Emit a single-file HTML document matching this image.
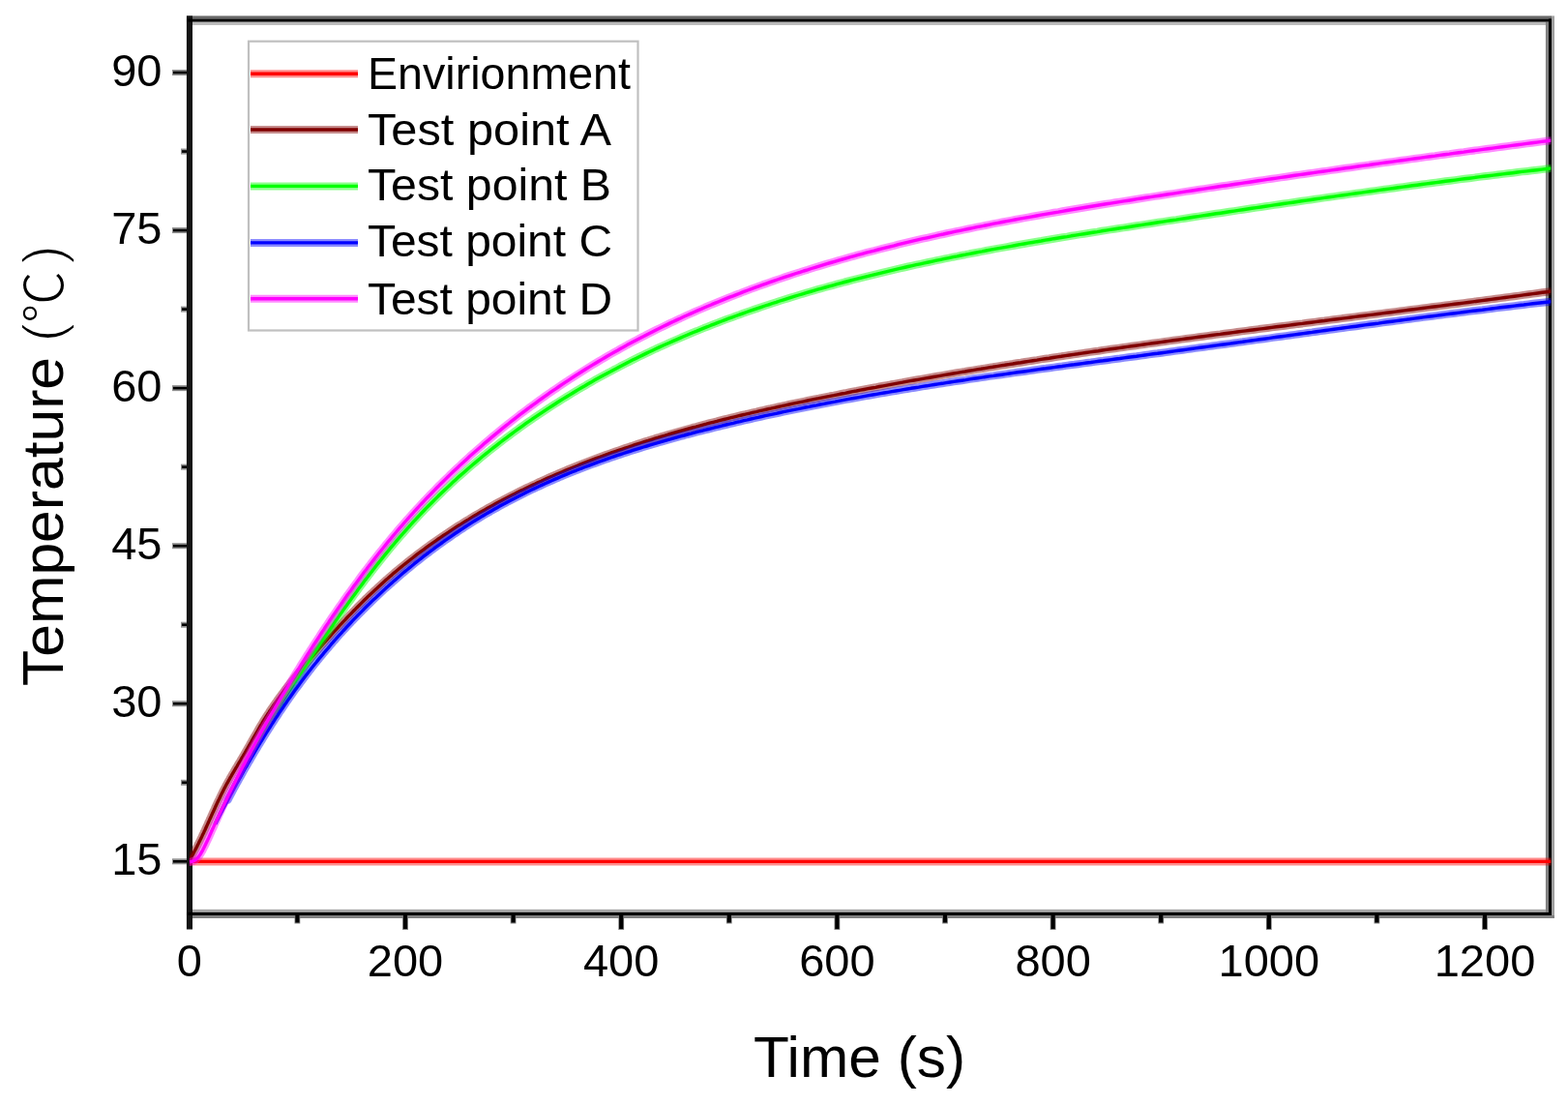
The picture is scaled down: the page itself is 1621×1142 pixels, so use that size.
<!DOCTYPE html><html><head><meta charset="utf-8"><style>html,body{margin:0;padding:0;background:#fff;overflow:hidden;}svg{display:block;}text{font-family:"Liberation Sans", Arial, sans-serif;fill:#000;}</style></head><body>
<svg width="1621" height="1142" viewBox="0 0 1621 1142">
<defs><clipPath id="pc"><rect x="195.8" y="19.4" width="1407.5" height="926"/></clipPath></defs>
<rect x="0" y="0" width="1621" height="1142" fill="#fff"/>
<g>
<rect x="0" y="0" width="1621" height="1142" fill="#fff"/>
<rect x="193" y="16.4" width="1411" height="3.0" fill="#6a6a6a"/>
<rect x="1604" y="16.4" width="3" height="932.6" fill="#a0a0a0"/>
<rect x="199" y="22.6" width="1399" height="3.3" fill="#b8b8b8"/>
<rect x="1597.9" y="22.6" width="3.1" height="920.2" fill="#808080"/>
<rect x="199" y="939.8" width="1399" height="3.0" fill="#a8a8a8"/>
<rect x="193" y="946" width="1414" height="3.0" fill="#808080"/>
<rect x="192.9" y="16.4" width="6.1" height="944.1" fill="#141414"/>
<rect x="193" y="19.4" width="1411" height="3.2" fill="#000"/>
<rect x="1601" y="19.4" width="3" height="926.6" fill="#000"/>
<rect x="193" y="942.8" width="1411" height="3.2" fill="#000"/>
<g clip-path="url(#pc)" fill="none" stroke-linejoin="round" stroke-linecap="butt">
<line x1="196" y1="890.4" x2="1604" y2="890.4" stroke="#ff0000" stroke-opacity="0.45" stroke-width="8.0"/>
<line x1="196" y1="890.4" x2="1604" y2="890.4" stroke="#ff0000" stroke-width="3.4"/>
<path d="M195.9,889.5 L196.0,889.3 L196.1,889.1 L196.3,888.8 L196.5,888.4 L196.7,888.0 L196.9,887.6 L197.2,887.1 L197.5,886.6 L197.8,886.0 L198.1,885.4 L198.4,884.8 L198.8,884.2 L199.2,883.5 L199.5,882.8 L199.9,882.1 L200.3,881.3 L200.7,880.5 L201.1,879.7 L201.6,878.9 L202.0,878.0 L202.5,877.2 L202.9,876.3 L203.4,875.3 L203.9,874.4 L204.3,873.4 L204.8,872.5 L205.3,871.5 L205.8,870.4 L206.4,869.4 L206.9,868.3 L207.4,867.3 L207.9,866.2 L208.5,865.0 L209.0,863.9 L209.5,862.7 L210.1,861.6 L210.7,860.4 L211.2,859.2 L211.8,858.0 L212.4,856.7 L212.9,855.5 L213.5,854.2 L214.1,852.9 L214.7,851.6 L215.3,850.3 L215.9,848.9 L216.5,847.6 L217.1,846.2 L217.8,844.8 L218.4,843.4 L219.0,842.0 L219.7,840.6 L220.3,839.2 L221.0,837.7 L221.7,836.3 L222.3,834.8 L223.0,833.3 L223.7,831.8 L224.4,830.3 L225.1,828.8 L225.8,827.3 L226.6,825.7 L227.3,824.2 L228.1,822.6 L228.8,821.1 L229.6,819.5 L230.4,817.9 L231.2,816.3 L232.0,814.7 L232.9,813.1 L233.7,811.5 L234.6,809.9 L235.5,808.3 L236.4,806.7 L237.3,805.1 L238.2,803.4 L239.2,801.8 L240.1,800.1 L241.1,798.5 L242.1,796.8 L243.1,795.1 L244.1,793.4 L245.1,791.8 L246.1,790.0 L247.1,788.3 L248.2,786.6 L249.2,784.9 L250.2,783.1 L251.3,781.4 L252.3,779.6 L253.4,777.8 L254.4,776.0 L255.5,774.2 L256.5,772.3 L257.6,770.5 L258.6,768.6 L259.7,766.8 L260.7,764.9 L261.8,763.0 L262.9,761.2 L264.0,759.3 L265.1,757.4 L266.2,755.5 L267.3,753.5 L268.4,751.6 L269.5,749.7 L270.7,747.8 L271.8,745.9 L273.0,744.0 L274.2,742.1 L275.4,740.2 L276.6,738.3 L277.9,736.4 L279.1,734.5 L280.4,732.6 L281.7,730.7 L283.0,728.8 L284.3,726.9 L285.7,725.0 L287.0,723.1 L288.4,721.2 L289.8,719.3 L291.2,717.4 L292.6,715.5 L294.0,713.6 L295.4,711.7 L296.9,709.8 L298.4,707.9 L299.9,706.0 L301.4,704.1 L302.9,702.2 L304.4,700.3 L306.0,698.4 L307.5,696.5 L309.1,694.6 L310.7,692.7 L312.3,690.7 L313.9,688.8 L315.5,686.9 L317.2,684.9 L318.9,683.0 L320.5,681.0 L322.2,679.1 L323.9,677.1 L325.6,675.1 L327.4,673.1 L329.1,671.1 L330.8,669.1 L332.6,667.1 L334.4,665.1 L336.2,663.1 L338.0,661.1 L339.8,659.0 L341.6,657.0 L343.5,654.9 L345.3,652.9 L347.2,650.8 L349.1,648.8 L351.0,646.7 L352.9,644.7 L354.8,642.6 L356.8,640.6 L358.7,638.5 L360.7,636.4 L362.7,634.4 L364.7,632.3 L366.7,630.3 L368.7,628.2 L370.7,626.2 L372.8,624.1 L374.8,622.1 L376.9,620.0 L379.0,618.0 L381.1,615.9 L383.2,613.9 L385.4,611.9 L387.5,609.9 L389.7,607.9 L391.8,605.9 L394.0,603.9 L396.2,601.9 L398.4,599.9 L400.7,598.0 L402.9,596.0 L405.2,594.1 L407.4,592.1 L409.7,590.2 L412.0,588.3 L414.3,586.4 L416.6,584.5 L419.0,582.6 L421.3,580.7 L423.7,578.8 L426.1,577.0 L428.5,575.1 L430.9,573.2 L433.3,571.4 L435.7,569.6 L438.2,567.8 L440.7,565.9 L443.1,564.1 L445.6,562.3 L448.1,560.6 L450.7,558.8 L453.2,557.0 L455.7,555.3 L458.3,553.5 L460.9,551.8 L463.5,550.1 L466.1,548.3 L468.7,546.6 L471.3,544.9 L473.9,543.2 L476.6,541.6 L479.3,539.9 L482.0,538.2 L484.7,536.6 L487.4,534.9 L490.1,533.3 L492.8,531.7 L495.6,530.1 L498.3,528.5 L501.1,526.9 L503.9,525.3 L506.7,523.7 L509.5,522.2 L512.4,520.6 L515.2,519.1 L518.1,517.6 L520.9,516.0 L523.8,514.5 L526.7,513.0 L529.6,511.5 L532.6,510.1 L535.5,508.6 L538.4,507.1 L541.4,505.7 L544.4,504.2 L547.4,502.8 L550.4,501.4 L553.4,500.0 L556.4,498.5 L559.5,497.2 L562.5,495.8 L565.6,494.4 L568.7,493.0 L571.7,491.7 L574.9,490.3 L578.0,489.0 L581.1,487.7 L584.2,486.4 L587.4,485.0 L590.6,483.7 L593.7,482.5 L596.9,481.2 L600.1,479.9 L603.3,478.7 L606.6,477.4 L609.8,476.2 L613.1,474.9 L616.3,473.7 L619.6,472.5 L622.9,471.3 L626.2,470.1 L629.5,468.9 L632.8,467.7 L636.1,466.6 L639.5,465.4 L642.8,464.3 L646.2,463.1 L649.6,462.0 L653.0,460.9 L656.4,459.7 L659.8,458.6 L663.2,457.5 L666.6,456.4 L670.1,455.4 L673.5,454.3 L677.0,453.2 L680.5,452.2 L683.9,451.1 L687.4,450.1 L690.9,449.0 L694.5,448.0 L698.0,447.0 L701.5,446.0 L705.1,445.0 L708.6,444.0 L712.2,443.0 L715.8,442.0 L719.4,441.1 L723.0,440.1 L726.6,439.1 L730.2,438.2 L733.8,437.2 L737.4,436.3 L741.1,435.4 L744.7,434.4 L748.4,433.5 L752.1,432.6 L755.8,431.7 L759.4,430.8 L763.1,429.9 L766.9,429.0 L770.6,428.2 L774.3,427.3 L778.0,426.4 L781.8,425.6 L785.5,424.7 L789.3,423.8 L793.0,423.0 L796.8,422.2 L800.6,421.3 L804.4,420.5 L808.2,419.7 L812.0,418.8 L815.8,418.0 L819.6,417.2 L823.4,416.4 L827.2,415.6 L831.1,414.8 L834.9,414.0 L838.8,413.2 L842.6,412.4 L846.5,411.7 L850.4,410.9 L854.2,410.1 L858.1,409.3 L862.0,408.6 L865.9,407.8 L869.8,407.0 L873.7,406.3 L877.6,405.5 L881.5,404.7 L885.5,404.0 L889.4,403.2 L893.3,402.5 L897.3,401.7 L901.2,401.0 L905.2,400.3 L909.1,399.5 L913.1,398.8 L917.0,398.1 L921.0,397.3 L925.0,396.6 L929.0,395.9 L933.0,395.2 L937.0,394.4 L941.0,393.7 L945.0,393.0 L949.0,392.3 L953.0,391.6 L957.0,390.9 L961.1,390.2 L965.1,389.5 L969.1,388.8 L973.2,388.1 L977.2,387.4 L981.3,386.7 L985.4,386.0 L989.4,385.3 L993.5,384.6 L997.6,384.0 L1001.7,383.3 L1005.8,382.6 L1009.9,381.9 L1014.0,381.3 L1018.1,380.6 L1022.2,379.9 L1026.3,379.3 L1030.4,378.6 L1034.6,377.9 L1038.7,377.3 L1042.8,376.6 L1047.0,376.0 L1051.1,375.3 L1055.3,374.7 L1059.5,374.0 L1063.6,373.4 L1067.8,372.7 L1072.0,372.1 L1076.2,371.4 L1080.4,370.8 L1084.6,370.2 L1088.8,369.5 L1093.0,368.9 L1097.2,368.3 L1101.4,367.6 L1105.6,367.0 L1109.9,366.4 L1114.1,365.8 L1118.3,365.1 L1122.6,364.5 L1126.8,363.9 L1131.1,363.3 L1135.4,362.7 L1139.6,362.0 L1143.9,361.4 L1148.2,360.8 L1152.5,360.2 L1156.8,359.6 L1161.1,359.0 L1165.4,358.4 L1169.7,357.8 L1174.0,357.2 L1178.3,356.6 L1182.6,356.0 L1186.9,355.4 L1191.3,354.8 L1195.6,354.2 L1200.0,353.6 L1204.3,353.0 L1208.7,352.4 L1213.0,351.8 L1217.4,351.2 L1221.8,350.6 L1226.2,350.0 L1230.5,349.5 L1234.9,348.9 L1239.3,348.3 L1243.7,347.7 L1248.1,347.1 L1252.5,346.5 L1257.0,345.9 L1261.4,345.4 L1265.8,344.8 L1270.2,344.2 L1274.7,343.6 L1279.1,343.0 L1283.6,342.4 L1288.0,341.9 L1292.5,341.3 L1297.0,340.7 L1301.4,340.1 L1305.9,339.6 L1310.4,339.0 L1314.9,338.4 L1319.4,337.8 L1323.9,337.2 L1328.4,336.7 L1332.9,336.1 L1337.4,335.5 L1341.9,334.9 L1346.5,334.4 L1351.0,333.8 L1355.5,333.2 L1360.1,332.6 L1364.6,332.0 L1369.2,331.5 L1373.7,330.9 L1378.3,330.3 L1382.9,329.7 L1387.4,329.1 L1392.0,328.6 L1396.6,328.0 L1401.2,327.4 L1405.8,326.8 L1410.4,326.2 L1415.0,325.6 L1419.6,325.1 L1424.3,324.5 L1428.9,323.9 L1433.5,323.3 L1438.2,322.7 L1442.8,322.1 L1447.4,321.5 L1452.1,320.9 L1456.8,320.3 L1461.4,319.7 L1466.1,319.1 L1470.8,318.5 L1475.5,317.9 L1480.1,317.3 L1484.8,316.7 L1489.5,316.1 L1494.2,315.5 L1499.0,314.9 L1503.7,314.3 L1508.4,313.7 L1513.1,313.1 L1517.9,312.5 L1522.6,311.9 L1527.3,311.2 L1532.1,310.6 L1536.8,310.0 L1541.6,309.4 L1546.4,308.7 L1551.1,308.1 L1555.9,307.5 L1560.7,306.9 L1565.5,306.2 L1570.3,305.6 L1575.1,304.9 L1579.9,304.3 L1584.7,303.6 L1589.5,303.0 L1594.4,302.3 L1599.2,301.7 L1604.0,301.0" stroke="#800000" stroke-opacity="0.45" stroke-width="8.0" stroke-linecap="round"/>
<path d="M195.9,889.5 L196.0,889.3 L196.1,889.1 L196.3,888.8 L196.5,888.4 L196.7,888.0 L196.9,887.6 L197.2,887.1 L197.5,886.6 L197.8,886.0 L198.1,885.4 L198.4,884.8 L198.8,884.2 L199.2,883.5 L199.5,882.8 L199.9,882.1 L200.3,881.3 L200.7,880.5 L201.1,879.7 L201.6,878.9 L202.0,878.0 L202.5,877.2 L202.9,876.3 L203.4,875.3 L203.9,874.4 L204.3,873.4 L204.8,872.5 L205.3,871.5 L205.8,870.4 L206.4,869.4 L206.9,868.3 L207.4,867.3 L207.9,866.2 L208.5,865.0 L209.0,863.9 L209.5,862.7 L210.1,861.6 L210.7,860.4 L211.2,859.2 L211.8,858.0 L212.4,856.7 L212.9,855.5 L213.5,854.2 L214.1,852.9 L214.7,851.6 L215.3,850.3 L215.9,848.9 L216.5,847.6 L217.1,846.2 L217.8,844.8 L218.4,843.4 L219.0,842.0 L219.7,840.6 L220.3,839.2 L221.0,837.7 L221.7,836.3 L222.3,834.8 L223.0,833.3 L223.7,831.8 L224.4,830.3 L225.1,828.8 L225.8,827.3 L226.6,825.7 L227.3,824.2 L228.1,822.6 L228.8,821.1 L229.6,819.5 L230.4,817.9 L231.2,816.3 L232.0,814.7 L232.9,813.1 L233.7,811.5 L234.6,809.9 L235.5,808.3 L236.4,806.7 L237.3,805.1 L238.2,803.4 L239.2,801.8 L240.1,800.1 L241.1,798.5 L242.1,796.8 L243.1,795.1 L244.1,793.4 L245.1,791.8 L246.1,790.0 L247.1,788.3 L248.2,786.6 L249.2,784.9 L250.2,783.1 L251.3,781.4 L252.3,779.6 L253.4,777.8 L254.4,776.0 L255.5,774.2 L256.5,772.3 L257.6,770.5 L258.6,768.6 L259.7,766.8 L260.7,764.9 L261.8,763.0 L262.9,761.2 L264.0,759.3 L265.1,757.4 L266.2,755.5 L267.3,753.5 L268.4,751.6 L269.5,749.7 L270.7,747.8 L271.8,745.9 L273.0,744.0 L274.2,742.1 L275.4,740.2 L276.6,738.3 L277.9,736.4 L279.1,734.5 L280.4,732.6 L281.7,730.7 L283.0,728.8 L284.3,726.9 L285.7,725.0 L287.0,723.1 L288.4,721.2 L289.8,719.3 L291.2,717.4 L292.6,715.5 L294.0,713.6 L295.4,711.7 L296.9,709.8 L298.4,707.9 L299.9,706.0 L301.4,704.1 L302.9,702.2 L304.4,700.3 L306.0,698.4 L307.5,696.5 L309.1,694.6 L310.7,692.7 L312.3,690.7 L313.9,688.8 L315.5,686.9 L317.2,684.9 L318.9,683.0 L320.5,681.0 L322.2,679.1 L323.9,677.1 L325.6,675.1 L327.4,673.1 L329.1,671.1 L330.8,669.1 L332.6,667.1 L334.4,665.1 L336.2,663.1 L338.0,661.1 L339.8,659.0 L341.6,657.0 L343.5,654.9 L345.3,652.9 L347.2,650.8 L349.1,648.8 L351.0,646.7 L352.9,644.7 L354.8,642.6 L356.8,640.6 L358.7,638.5 L360.7,636.4 L362.7,634.4 L364.7,632.3 L366.7,630.3 L368.7,628.2 L370.7,626.2 L372.8,624.1 L374.8,622.1 L376.9,620.0 L379.0,618.0 L381.1,615.9 L383.2,613.9 L385.4,611.9 L387.5,609.9 L389.7,607.9 L391.8,605.9 L394.0,603.9 L396.2,601.9 L398.4,599.9 L400.7,598.0 L402.9,596.0 L405.2,594.1 L407.4,592.1 L409.7,590.2 L412.0,588.3 L414.3,586.4 L416.6,584.5 L419.0,582.6 L421.3,580.7 L423.7,578.8 L426.1,577.0 L428.5,575.1 L430.9,573.2 L433.3,571.4 L435.7,569.6 L438.2,567.8 L440.7,565.9 L443.1,564.1 L445.6,562.3 L448.1,560.6 L450.7,558.8 L453.2,557.0 L455.7,555.3 L458.3,553.5 L460.9,551.8 L463.5,550.1 L466.1,548.3 L468.7,546.6 L471.3,544.9 L473.9,543.2 L476.6,541.6 L479.3,539.9 L482.0,538.2 L484.7,536.6 L487.4,534.9 L490.1,533.3 L492.8,531.7 L495.6,530.1 L498.3,528.5 L501.1,526.9 L503.9,525.3 L506.7,523.7 L509.5,522.2 L512.4,520.6 L515.2,519.1 L518.1,517.6 L520.9,516.0 L523.8,514.5 L526.7,513.0 L529.6,511.5 L532.6,510.1 L535.5,508.6 L538.4,507.1 L541.4,505.7 L544.4,504.2 L547.4,502.8 L550.4,501.4 L553.4,500.0 L556.4,498.5 L559.5,497.2 L562.5,495.8 L565.6,494.4 L568.7,493.0 L571.7,491.7 L574.9,490.3 L578.0,489.0 L581.1,487.7 L584.2,486.4 L587.4,485.0 L590.6,483.7 L593.7,482.5 L596.9,481.2 L600.1,479.9 L603.3,478.7 L606.6,477.4 L609.8,476.2 L613.1,474.9 L616.3,473.7 L619.6,472.5 L622.9,471.3 L626.2,470.1 L629.5,468.9 L632.8,467.7 L636.1,466.6 L639.5,465.4 L642.8,464.3 L646.2,463.1 L649.6,462.0 L653.0,460.9 L656.4,459.7 L659.8,458.6 L663.2,457.5 L666.6,456.4 L670.1,455.4 L673.5,454.3 L677.0,453.2 L680.5,452.2 L683.9,451.1 L687.4,450.1 L690.9,449.0 L694.5,448.0 L698.0,447.0 L701.5,446.0 L705.1,445.0 L708.6,444.0 L712.2,443.0 L715.8,442.0 L719.4,441.1 L723.0,440.1 L726.6,439.1 L730.2,438.2 L733.8,437.2 L737.4,436.3 L741.1,435.4 L744.7,434.4 L748.4,433.5 L752.1,432.6 L755.8,431.7 L759.4,430.8 L763.1,429.9 L766.9,429.0 L770.6,428.2 L774.3,427.3 L778.0,426.4 L781.8,425.6 L785.5,424.7 L789.3,423.8 L793.0,423.0 L796.8,422.2 L800.6,421.3 L804.4,420.5 L808.2,419.7 L812.0,418.8 L815.8,418.0 L819.6,417.2 L823.4,416.4 L827.2,415.6 L831.1,414.8 L834.9,414.0 L838.8,413.2 L842.6,412.4 L846.5,411.7 L850.4,410.9 L854.2,410.1 L858.1,409.3 L862.0,408.6 L865.9,407.8 L869.8,407.0 L873.7,406.3 L877.6,405.5 L881.5,404.7 L885.5,404.0 L889.4,403.2 L893.3,402.5 L897.3,401.7 L901.2,401.0 L905.2,400.3 L909.1,399.5 L913.1,398.8 L917.0,398.1 L921.0,397.3 L925.0,396.6 L929.0,395.9 L933.0,395.2 L937.0,394.4 L941.0,393.7 L945.0,393.0 L949.0,392.3 L953.0,391.6 L957.0,390.9 L961.1,390.2 L965.1,389.5 L969.1,388.8 L973.2,388.1 L977.2,387.4 L981.3,386.7 L985.4,386.0 L989.4,385.3 L993.5,384.6 L997.6,384.0 L1001.7,383.3 L1005.8,382.6 L1009.9,381.9 L1014.0,381.3 L1018.1,380.6 L1022.2,379.9 L1026.3,379.3 L1030.4,378.6 L1034.6,377.9 L1038.7,377.3 L1042.8,376.6 L1047.0,376.0 L1051.1,375.3 L1055.3,374.7 L1059.5,374.0 L1063.6,373.4 L1067.8,372.7 L1072.0,372.1 L1076.2,371.4 L1080.4,370.8 L1084.6,370.2 L1088.8,369.5 L1093.0,368.9 L1097.2,368.3 L1101.4,367.6 L1105.6,367.0 L1109.9,366.4 L1114.1,365.8 L1118.3,365.1 L1122.6,364.5 L1126.8,363.9 L1131.1,363.3 L1135.4,362.7 L1139.6,362.0 L1143.9,361.4 L1148.2,360.8 L1152.5,360.2 L1156.8,359.6 L1161.1,359.0 L1165.4,358.4 L1169.7,357.8 L1174.0,357.2 L1178.3,356.6 L1182.6,356.0 L1186.9,355.4 L1191.3,354.8 L1195.6,354.2 L1200.0,353.6 L1204.3,353.0 L1208.7,352.4 L1213.0,351.8 L1217.4,351.2 L1221.8,350.6 L1226.2,350.0 L1230.5,349.5 L1234.9,348.9 L1239.3,348.3 L1243.7,347.7 L1248.1,347.1 L1252.5,346.5 L1257.0,345.9 L1261.4,345.4 L1265.8,344.8 L1270.2,344.2 L1274.7,343.6 L1279.1,343.0 L1283.6,342.4 L1288.0,341.9 L1292.5,341.3 L1297.0,340.7 L1301.4,340.1 L1305.9,339.6 L1310.4,339.0 L1314.9,338.4 L1319.4,337.8 L1323.9,337.2 L1328.4,336.7 L1332.9,336.1 L1337.4,335.5 L1341.9,334.9 L1346.5,334.4 L1351.0,333.8 L1355.5,333.2 L1360.1,332.6 L1364.6,332.0 L1369.2,331.5 L1373.7,330.9 L1378.3,330.3 L1382.9,329.7 L1387.4,329.1 L1392.0,328.6 L1396.6,328.0 L1401.2,327.4 L1405.8,326.8 L1410.4,326.2 L1415.0,325.6 L1419.6,325.1 L1424.3,324.5 L1428.9,323.9 L1433.5,323.3 L1438.2,322.7 L1442.8,322.1 L1447.4,321.5 L1452.1,320.9 L1456.8,320.3 L1461.4,319.7 L1466.1,319.1 L1470.8,318.5 L1475.5,317.9 L1480.1,317.3 L1484.8,316.7 L1489.5,316.1 L1494.2,315.5 L1499.0,314.9 L1503.7,314.3 L1508.4,313.7 L1513.1,313.1 L1517.9,312.5 L1522.6,311.9 L1527.3,311.2 L1532.1,310.6 L1536.8,310.0 L1541.6,309.4 L1546.4,308.7 L1551.1,308.1 L1555.9,307.5 L1560.7,306.9 L1565.5,306.2 L1570.3,305.6 L1575.1,304.9 L1579.9,304.3 L1584.7,303.6 L1589.5,303.0 L1594.4,302.3 L1599.2,301.7 L1604.0,301.0" stroke="#800000" stroke-width="3.4"/>
<path d="M286.5,733.6 L287.7,731.5 L289.0,729.5 L290.3,727.4 L291.6,725.4 L293.0,723.3 L294.3,721.2 L295.6,719.1 L296.9,717.0 L298.3,714.9 L299.7,712.8 L301.0,710.7 L302.4,708.6 L303.8,706.4 L305.2,704.3 L306.6,702.1 L308.0,700.0 L309.4,697.8 L310.8,695.7 L312.2,693.5 L313.7,691.3 L315.1,689.1 L316.5,686.9 L318.0,684.7 L319.5,682.5 L320.9,680.3 L322.4,678.0 L323.9,675.8 L325.4,673.6 L326.9,671.3 L328.4,669.1 L329.9,666.8 L331.4,664.5 L333.0,662.2 L334.5,660.0 L336.1,657.7 L337.6,655.4 L339.2,653.1 L340.8,650.8 L342.3,648.5 L343.9,646.2 L345.5,643.9 L347.1,641.5 L348.8,639.2 L350.4,636.9 L352.0,634.5 L353.7,632.2 L355.3,629.9 L357.0,627.5 L358.7,625.2 L360.4,622.8 L362.1,620.5 L363.8,618.1 L365.5,615.7 L367.2,613.4 L369.0,611.0 L370.7,608.6 L372.5,606.2 L374.3,603.9 L376.0,601.5 L377.8,599.1 L379.7,596.7 L381.5,594.4 L383.3,592.0 L385.2,589.6 L387.0,587.2 L388.9,584.8 L390.8,582.4 L392.7,580.0 L394.6,577.7 L396.5,575.3 L398.4,572.9 L400.4,570.5 L402.3,568.1 L404.3,565.7 L406.3,563.4 L408.3,561.0 L410.3,558.6 L412.4,556.2 L414.4,553.9 L416.5,551.5 L418.6,549.1 L420.6,546.8 L422.8,544.4 L424.9,542.0 L427.0,539.7 L429.2,537.3 L431.4,535.0 L433.6,532.6 L435.8,530.3 L438.0,528.0 L440.2,525.6 L442.5,523.3 L444.8,521.0 L447.1,518.7 L449.4,516.4 L451.7,514.1 L454.0,511.8 L456.4,509.5 L458.8,507.2 L461.2,504.9 L463.6,502.7 L466.0,500.4 L468.5,498.1 L470.9,495.9 L473.4,493.6 L475.9,491.4 L478.4,489.2 L481.0,486.9 L483.5,484.7 L486.1,482.5 L488.7,480.3 L491.3,478.1 L493.9,475.9 L496.5,473.7 L499.1,471.5 L501.8,469.4 L504.5,467.2 L507.2,465.0 L509.9,462.9 L512.6,460.8 L515.4,458.6 L518.1,456.5 L520.9,454.4 L523.7,452.3 L526.5,450.2 L529.3,448.1 L532.1,446.0 L535.0,443.9 L537.9,441.8 L540.7,439.8 L543.6,437.7 L546.6,435.7 L549.5,433.7 L552.4,431.6 L555.4,429.6 L558.4,427.6 L561.4,425.6 L564.4,423.6 L567.4,421.6 L570.4,419.7 L573.5,417.7 L576.5,415.8 L579.6,413.8 L582.7,411.9 L585.8,410.0 L588.9,408.1 L592.0,406.2 L595.2,404.3 L598.3,402.4 L601.5,400.5 L604.7,398.7 L607.9,396.8 L611.1,395.0 L614.3,393.1 L617.6,391.3 L620.8,389.5 L624.1,387.7 L627.4,385.9 L630.7,384.2 L634.0,382.4 L637.3,380.7 L640.6,378.9 L644.0,377.2 L647.3,375.5 L650.7,373.8 L654.0,372.1 L657.4,370.4 L660.8,368.7 L664.2,367.1 L667.7,365.4 L671.1,363.8 L674.5,362.2 L678.0,360.5 L681.5,358.9 L685.0,357.3 L688.4,355.8 L692.0,354.2 L695.5,352.6 L699.0,351.1 L702.5,349.6 L706.1,348.0 L709.7,346.5 L713.2,345.0 L716.8,343.5 L720.4,342.1 L724.0,340.6 L727.6,339.1 L731.3,337.7 L734.9,336.2 L738.6,334.8 L742.2,333.4 L745.9,332.0 L749.6,330.6 L753.3,329.2 L757.0,327.9 L760.7,326.5 L764.5,325.2 L768.2,323.8 L771.9,322.5 L775.7,321.2 L779.5,319.9 L783.3,318.6 L787.1,317.3 L790.9,316.0 L794.7,314.8 L798.5,313.5 L802.4,312.3 L806.2,311.0 L810.1,309.8 L813.9,308.6 L817.8,307.4 L821.7,306.2 L825.6,305.0 L829.5,303.8 L833.4,302.7 L837.4,301.5 L841.3,300.4 L845.3,299.2 L849.2,298.1 L853.2,297.0 L857.2,295.9 L861.2,294.8 L865.2,293.7 L869.2,292.6 L873.2,291.5 L877.2,290.5 L881.3,289.4 L885.3,288.4 L889.4,287.3 L893.4,286.3 L897.5,285.3 L901.6,284.3 L905.7,283.3 L909.8,282.3 L913.9,281.3 L918.0,280.3 L922.2,279.3 L926.3,278.4 L930.5,277.4 L934.6,276.5 L938.8,275.5 L943.0,274.6 L947.1,273.7 L951.3,272.8 L955.5,271.9 L959.8,271.0 L964.0,270.1 L968.2,269.2 L972.4,268.3 L976.7,267.4 L980.9,266.6 L985.2,265.7 L989.5,264.9 L993.7,264.0 L998.0,263.2 L1002.3,262.3 L1006.6,261.5 L1010.9,260.7 L1015.2,259.9 L1019.5,259.0 L1023.9,258.2 L1028.2,257.4 L1032.5,256.6 L1036.9,255.9 L1041.3,255.1 L1045.6,254.3 L1050.0,253.5 L1054.4,252.7 L1058.7,252.0 L1063.1,251.2 L1067.5,250.5 L1071.9,249.7 L1076.4,249.0 L1080.8,248.2 L1085.2,247.5 L1089.6,246.7 L1094.1,246.0 L1098.5,245.3 L1103.0,244.6 L1107.4,243.8 L1111.9,243.1 L1116.3,242.4 L1120.8,241.7 L1125.3,241.0 L1129.8,240.3 L1134.3,239.6 L1138.7,238.8 L1143.2,238.1 L1147.7,237.4 L1152.3,236.7 L1156.8,236.0 L1161.3,235.4 L1165.8,234.7 L1170.3,234.0 L1174.9,233.3 L1179.4,232.6 L1184.0,231.9 L1188.5,231.2 L1193.1,230.5 L1197.6,229.8 L1202.2,229.1 L1206.7,228.4 L1211.3,227.7 L1215.9,227.1 L1220.4,226.4 L1225.0,225.7 L1229.6,225.0 L1234.2,224.3 L1238.8,223.6 L1243.4,222.9 L1248.0,222.2 L1252.6,221.5 L1257.2,220.8 L1261.8,220.2 L1266.4,219.5 L1271.0,218.8 L1275.7,218.1 L1280.3,217.4 L1284.9,216.7 L1289.6,216.0 L1294.2,215.3 L1298.9,214.6 L1303.5,214.0 L1308.2,213.3 L1312.9,212.6 L1317.5,211.9 L1322.2,211.2 L1326.9,210.5 L1331.6,209.9 L1336.3,209.2 L1341.0,208.5 L1345.7,207.8 L1350.4,207.1 L1355.1,206.5 L1359.8,205.8 L1364.5,205.1 L1369.3,204.4 L1374.0,203.8 L1378.8,203.1 L1383.5,202.4 L1388.3,201.7 L1393.0,201.1 L1397.8,200.4 L1402.5,199.7 L1407.3,199.1 L1412.1,198.4 L1416.9,197.7 L1421.7,197.1 L1426.5,196.4 L1431.3,195.8 L1436.1,195.1 L1440.9,194.5 L1445.8,193.8 L1450.6,193.1 L1455.4,192.5 L1460.3,191.8 L1465.1,191.2 L1470.0,190.5 L1474.9,189.9 L1479.7,189.3 L1484.6,188.6 L1489.5,188.0 L1494.4,187.3 L1499.3,186.7 L1504.2,186.1 L1509.1,185.4 L1514.1,184.8 L1519.0,184.2 L1523.9,183.6 L1528.9,182.9 L1533.8,182.3 L1538.8,181.7 L1543.8,181.1 L1548.7,180.5 L1553.7,179.9 L1558.7,179.3 L1563.7,178.7 L1568.7,178.0 L1573.7,177.4 L1578.8,176.9 L1583.8,176.3 L1588.8,175.7 L1593.9,175.1 L1598.9,174.5 L1604.0,173.9" stroke="#00ff00" stroke-opacity="0.45" stroke-width="8.0" stroke-linecap="round"/>
<path d="M221.9,851.9 L222.5,850.4 L223.2,849.0 L223.8,847.5 L224.5,846.1 L225.2,844.6 L225.9,843.1 L226.6,841.6 L227.3,840.0 L228.0,838.5 L228.8,837.0 L229.5,835.4 L230.3,833.8 L231.0,832.3 L231.8,830.7 L232.6,829.1 L233.4,827.5 L234.2,825.9 L235.0,824.2 L235.8,822.6 L236.6,820.9 L237.5,819.3 L238.3,817.6 L239.2,815.9 L240.0,814.2 L240.9,812.5 L241.8,810.8 L242.7,809.1 L243.6,807.4 L244.5,805.6 L245.4,803.9 L246.4,802.1 L247.3,800.4 L248.3,798.6 L249.3,796.8 L250.2,795.0 L251.2,793.2 L252.2,791.4 L253.2,789.6 L254.2,787.8 L255.3,786.0 L256.3,784.1 L257.3,782.3 L258.4,780.4 L259.4,778.6 L260.5,776.7 L261.6,774.8 L262.7,772.9 L263.8,771.0 L264.9,769.1 L266.0,767.2 L267.2,765.3 L268.3,763.4 L269.4,761.4 L270.6,759.5 L271.8,757.5 L272.9,755.6 L274.1,753.6 L275.3,751.6 L276.5,749.7 L277.7,747.7 L278.9,745.7 L280.2,743.7 L281.4,741.7 L282.7,739.7 L283.9,737.6 L285.2,735.6 L286.5,733.6 L287.7,731.5 L289.0,729.5 L290.3,727.4 L291.6,725.4 L293.0,723.3 L294.3,721.2 L295.6,719.1 L296.9,717.0 L298.3,714.9 L299.7,712.8 L301.0,710.7 L302.4,708.6 L303.8,706.4 L305.2,704.3 L306.6,702.1 L308.0,700.0 L309.4,697.8 L310.8,695.7 L312.2,693.5 L313.7,691.3 L315.1,689.1 L316.5,686.9 L318.0,684.7 L319.5,682.5 L320.9,680.3 L322.4,678.0 L323.9,675.8 L325.4,673.6 L326.9,671.3 L328.4,669.1 L329.9,666.8 L331.4,664.5 L333.0,662.2 L334.5,660.0 L336.1,657.7 L337.6,655.4 L339.2,653.1 L340.8,650.8 L342.3,648.5 L343.9,646.2 L345.5,643.9 L347.1,641.5 L348.8,639.2 L350.4,636.9 L352.0,634.5 L353.7,632.2 L355.3,629.9 L357.0,627.5 L358.7,625.2 L360.4,622.8 L362.1,620.5 L363.8,618.1 L365.5,615.7 L367.2,613.4 L369.0,611.0 L370.7,608.6 L372.5,606.2 L374.3,603.9 L376.0,601.5 L377.8,599.1 L379.7,596.7 L381.5,594.4 L383.3,592.0 L385.2,589.6 L387.0,587.2 L388.9,584.8 L390.8,582.4 L392.7,580.0 L394.6,577.7 L396.5,575.3 L398.4,572.9 L400.4,570.5 L402.3,568.1 L404.3,565.7 L406.3,563.4 L408.3,561.0 L410.3,558.6 L412.4,556.2 L414.4,553.9 L416.5,551.5 L418.6,549.1 L420.6,546.8 L422.8,544.4 L424.9,542.0 L427.0,539.7 L429.2,537.3 L431.4,535.0 L433.6,532.6 L435.8,530.3 L438.0,528.0 L440.2,525.6 L442.5,523.3 L444.8,521.0 L447.1,518.7 L449.4,516.4 L451.7,514.1 L454.0,511.8 L456.4,509.5 L458.8,507.2 L461.2,504.9 L463.6,502.7 L466.0,500.4 L468.5,498.1 L470.9,495.9 L473.4,493.6 L475.9,491.4 L478.4,489.2 L481.0,486.9 L483.5,484.7 L486.1,482.5 L488.7,480.3 L491.3,478.1 L493.9,475.9 L496.5,473.7 L499.1,471.5 L501.8,469.4 L504.5,467.2 L507.2,465.0 L509.9,462.9 L512.6,460.8 L515.4,458.6 L518.1,456.5 L520.9,454.4 L523.7,452.3 L526.5,450.2 L529.3,448.1 L532.1,446.0 L535.0,443.9 L537.9,441.8 L540.7,439.8 L543.6,437.7 L546.6,435.7 L549.5,433.7 L552.4,431.6 L555.4,429.6 L558.4,427.6 L561.4,425.6 L564.4,423.6 L567.4,421.6 L570.4,419.7 L573.5,417.7 L576.5,415.8 L579.6,413.8 L582.7,411.9 L585.8,410.0 L588.9,408.1 L592.0,406.2 L595.2,404.3 L598.3,402.4 L601.5,400.5 L604.7,398.7 L607.9,396.8 L611.1,395.0 L614.3,393.1 L617.6,391.3 L620.8,389.5 L624.1,387.7 L627.4,385.9 L630.7,384.2 L634.0,382.4 L637.3,380.7 L640.6,378.9 L644.0,377.2 L647.3,375.5 L650.7,373.8 L654.0,372.1 L657.4,370.4 L660.8,368.7 L664.2,367.1 L667.7,365.4 L671.1,363.8 L674.5,362.2 L678.0,360.5 L681.5,358.9 L685.0,357.3 L688.4,355.8 L692.0,354.2 L695.5,352.6 L699.0,351.1 L702.5,349.6 L706.1,348.0 L709.7,346.5 L713.2,345.0 L716.8,343.5 L720.4,342.1 L724.0,340.6 L727.6,339.1 L731.3,337.7 L734.9,336.2 L738.6,334.8 L742.2,333.4 L745.9,332.0 L749.6,330.6 L753.3,329.2 L757.0,327.9 L760.7,326.5 L764.5,325.2 L768.2,323.8 L771.9,322.5 L775.7,321.2 L779.5,319.9 L783.3,318.6 L787.1,317.3 L790.9,316.0 L794.7,314.8 L798.5,313.5 L802.4,312.3 L806.2,311.0 L810.1,309.8 L813.9,308.6 L817.8,307.4 L821.7,306.2 L825.6,305.0 L829.5,303.8 L833.4,302.7 L837.4,301.5 L841.3,300.4 L845.3,299.2 L849.2,298.1 L853.2,297.0 L857.2,295.9 L861.2,294.8 L865.2,293.7 L869.2,292.6 L873.2,291.5 L877.2,290.5 L881.3,289.4 L885.3,288.4 L889.4,287.3 L893.4,286.3 L897.5,285.3 L901.6,284.3 L905.7,283.3 L909.8,282.3 L913.9,281.3 L918.0,280.3 L922.2,279.3 L926.3,278.4 L930.5,277.4 L934.6,276.5 L938.8,275.5 L943.0,274.6 L947.1,273.7 L951.3,272.8 L955.5,271.9 L959.8,271.0 L964.0,270.1 L968.2,269.2 L972.4,268.3 L976.7,267.4 L980.9,266.6 L985.2,265.7 L989.5,264.9 L993.7,264.0 L998.0,263.2 L1002.3,262.3 L1006.6,261.5 L1010.9,260.7 L1015.2,259.9 L1019.5,259.0 L1023.9,258.2 L1028.2,257.4 L1032.5,256.6 L1036.9,255.9 L1041.3,255.1 L1045.6,254.3 L1050.0,253.5 L1054.4,252.7 L1058.7,252.0 L1063.1,251.2 L1067.5,250.5 L1071.9,249.7 L1076.4,249.0 L1080.8,248.2 L1085.2,247.5 L1089.6,246.7 L1094.1,246.0 L1098.5,245.3 L1103.0,244.6 L1107.4,243.8 L1111.9,243.1 L1116.3,242.4 L1120.8,241.7 L1125.3,241.0 L1129.8,240.3 L1134.3,239.6 L1138.7,238.8 L1143.2,238.1 L1147.7,237.4 L1152.3,236.7 L1156.8,236.0 L1161.3,235.4 L1165.8,234.7 L1170.3,234.0 L1174.9,233.3 L1179.4,232.6 L1184.0,231.9 L1188.5,231.2 L1193.1,230.5 L1197.6,229.8 L1202.2,229.1 L1206.7,228.4 L1211.3,227.7 L1215.9,227.1 L1220.4,226.4 L1225.0,225.7 L1229.6,225.0 L1234.2,224.3 L1238.8,223.6 L1243.4,222.9 L1248.0,222.2 L1252.6,221.5 L1257.2,220.8 L1261.8,220.2 L1266.4,219.5 L1271.0,218.8 L1275.7,218.1 L1280.3,217.4 L1284.9,216.7 L1289.6,216.0 L1294.2,215.3 L1298.9,214.6 L1303.5,214.0 L1308.2,213.3 L1312.9,212.6 L1317.5,211.9 L1322.2,211.2 L1326.9,210.5 L1331.6,209.9 L1336.3,209.2 L1341.0,208.5 L1345.7,207.8 L1350.4,207.1 L1355.1,206.5 L1359.8,205.8 L1364.5,205.1 L1369.3,204.4 L1374.0,203.8 L1378.8,203.1 L1383.5,202.4 L1388.3,201.7 L1393.0,201.1 L1397.8,200.4 L1402.5,199.7 L1407.3,199.1 L1412.1,198.4 L1416.9,197.7 L1421.7,197.1 L1426.5,196.4 L1431.3,195.8 L1436.1,195.1 L1440.9,194.5 L1445.8,193.8 L1450.6,193.1 L1455.4,192.5 L1460.3,191.8 L1465.1,191.2 L1470.0,190.5 L1474.9,189.9 L1479.7,189.3 L1484.6,188.6 L1489.5,188.0 L1494.4,187.3 L1499.3,186.7 L1504.2,186.1 L1509.1,185.4 L1514.1,184.8 L1519.0,184.2 L1523.9,183.6 L1528.9,182.9 L1533.8,182.3 L1538.8,181.7 L1543.8,181.1 L1548.7,180.5 L1553.7,179.9 L1558.7,179.3 L1563.7,178.7 L1568.7,178.0 L1573.7,177.4 L1578.8,176.9 L1583.8,176.3 L1588.8,175.7 L1593.9,175.1 L1598.9,174.5 L1604.0,173.9" stroke="#00ff00" stroke-width="3.4"/>
<path d="M235.7,826.6 L236.5,825.0 L237.4,823.4 L238.2,821.8 L239.0,820.3 L239.9,818.7 L240.8,817.0 L241.6,815.4 L242.5,813.8 L243.4,812.1 L244.3,810.5 L245.2,808.8 L246.2,807.2 L247.1,805.5 L248.0,803.8 L249.0,802.1 L249.9,800.4 L250.9,798.7 L251.8,797.0 L252.8,795.2 L253.8,793.5 L254.8,791.8 L255.8,790.0 L256.8,788.2 L257.9,786.5 L258.9,784.7 L259.9,782.9 L261.0,781.1 L262.0,779.3 L263.1,777.5 L264.2,775.7 L265.3,773.9 L266.4,772.0 L267.5,770.2 L268.6,768.4 L269.7,766.5 L270.9,764.7 L272.0,762.8 L273.2,760.9 L274.3,759.1 L275.5,757.2 L276.7,755.3 L277.9,753.4 L279.1,751.5 L280.3,749.6 L281.5,747.7 L282.8,745.8 L284.0,743.9 L285.3,741.9 L286.6,740.0 L287.8,738.1 L289.1,736.1 L290.4,734.2 L291.8,732.2 L293.1,730.3 L294.4,728.3 L295.8,726.4 L297.1,724.4 L298.5,722.4 L299.9,720.5 L301.3,718.5 L302.7,716.5 L304.1,714.5 L305.5,712.5 L307.0,710.6 L308.5,708.6 L309.9,706.6 L311.4,704.6 L312.9,702.6 L314.4,700.6 L315.9,698.6 L317.5,696.5 L319.0,694.5 L320.6,692.5 L322.1,690.5 L323.7,688.5 L325.3,686.5 L327.0,684.5 L328.6,682.4 L330.2,680.4 L331.9,678.4 L333.6,676.4 L335.2,674.3 L336.9,672.3 L338.7,670.3 L340.4,668.3 L342.1,666.2 L343.9,664.2 L345.6,662.2 L347.4,660.2 L349.2,658.1 L351.0,656.1 L352.9,654.1 L354.7,652.0 L356.6,650.0 L358.4,648.0 L360.3,646.0 L362.2,644.0 L364.1,641.9 L366.0,639.9 L368.0,637.9 L369.9,635.9 L371.9,633.9 L373.9,631.9 L375.9,629.8 L377.9,627.8 L379.9,625.8 L382.0,623.8 L384.0,621.8 L386.1,619.8 L388.2,617.9 L390.3,615.9 L392.4,613.9 L394.5,611.9 L396.6,609.9 L398.8,607.9 L401.0,606.0 L403.2,604.0 L405.4,602.1 L407.6,600.1 L409.8,598.2 L412.1,596.2 L414.3,594.3 L416.6,592.3 L418.9,590.4 L421.2,588.5 L423.5,586.6 L425.8,584.7 L428.2,582.7 L430.5,580.9 L432.9,579.0 L435.3,577.1 L437.7,575.2 L440.1,573.3 L442.6,571.5 L445.0,569.6 L447.5,567.8 L450.0,565.9 L452.5,564.1 L455.0,562.3 L457.5,560.5 L460.0,558.6 L462.6,556.9 L465.2,555.1 L467.7,553.3 L470.3,551.5 L473.0,549.8 L475.6,548.0 L478.2,546.3 L480.9,544.5 L483.5,542.8 L486.2,541.1 L488.9,539.4 L491.6,537.7 L494.4,536.1 L497.1,534.4 L499.9,532.7 L502.6,531.1 L505.4,529.5 L508.2,527.9 L511.0,526.3 L513.9,524.7 L516.7,523.1 L519.6,521.5 L522.5,520.0 L525.3,518.4 L528.2,516.9 L531.2,515.4 L534.1,513.9 L537.0,512.4 L540.0,510.9 L542.9,509.4 L545.9,508.0 L548.9,506.5 L551.9,505.1 L555.0,503.7 L558.0,502.3 L561.1,500.9 L564.1,499.5 L567.2,498.1 L570.3,496.8 L573.4,495.4 L576.5,494.1 L579.6,492.7 L582.8,491.4 L585.9,490.1 L589.1,488.8 L592.3,487.5 L595.5,486.3 L598.7,485.0 L601.9,483.8 L605.1,482.5 L608.4,481.3 L611.6,480.1 L614.9,478.9 L618.2,477.7 L621.5,476.5 L624.8,475.3 L628.1,474.2 L631.4,473.0 L634.7,471.9 L638.1,470.7 L641.5,469.6 L644.8,468.5 L648.2,467.4 L651.6,466.3 L655.0,465.2 L658.4,464.1 L661.8,463.1 L665.3,462.0 L668.7,461.0 L672.2,459.9 L675.6,458.9 L679.1,457.9 L682.6,456.8 L686.1,455.8 L689.6,454.8 L693.1,453.9 L696.6,452.9 L700.2,451.9 L703.7,450.9 L707.3,450.0 L710.8,449.0 L714.4,448.1 L718.0,447.1 L721.6,446.2 L725.1,445.3 L728.7,444.4 L732.4,443.5 L736.0,442.6 L739.6,441.7 L743.2,440.8 L746.9,439.9 L750.5,439.0 L754.2,438.1 L757.9,437.3 L761.5,436.4 L765.2,435.6 L768.9,434.7 L772.6,433.9 L776.3,433.0 L780.0,432.2 L783.7,431.4 L787.4,430.5 L791.1,429.7 L794.9,428.9 L798.6,428.1 L802.4,427.3 L806.1,426.5 L809.9,425.7 L813.7,424.9 L817.4,424.1 L821.2,423.3 L825.0,422.6 L828.8,421.8 L832.6,421.0 L836.4,420.3 L840.2,419.5 L844.1,418.8 L847.9,418.0 L851.7,417.3 L855.6,416.5 L859.4,415.8 L863.3,415.1 L867.2,414.3 L871.0,413.6 L874.9,412.9 L878.8,412.2 L882.7,411.5 L886.6,410.8 L890.5,410.1 L894.4,409.4 L898.3,408.7 L902.2,408.0 L906.2,407.3 L910.1,406.6 L914.0,406.0 L918.0,405.3 L922.0,404.6 L925.9,404.0 L929.9,403.3 L933.9,402.6 L937.8,402.0 L941.8,401.3 L945.8,400.7 L949.8,400.1 L953.8,399.4 L957.9,398.8 L961.9,398.1 L965.9,397.5 L969.9,396.9 L974.0,396.3 L978.0,395.6 L982.1,395.0 L986.1,394.4 L990.2,393.8 L994.3,393.2 L998.4,392.6 L1002.4,391.9 L1006.5,391.3 L1010.6,390.7 L1014.7,390.1 L1018.8,389.5 L1022.9,388.9 L1027.1,388.4 L1031.2,387.8 L1035.3,387.2 L1039.5,386.6 L1043.6,386.0 L1047.8,385.4 L1051.9,384.8 L1056.1,384.2 L1060.2,383.7 L1064.4,383.1 L1068.6,382.5 L1072.8,381.9 L1077.0,381.3 L1081.2,380.8 L1085.4,380.2 L1089.6,379.6 L1093.8,379.0 L1098.0,378.5 L1102.2,377.9 L1106.5,377.3 L1110.7,376.8 L1114.9,376.2 L1119.2,375.6 L1123.4,375.0 L1127.7,374.5 L1132.0,373.9 L1136.2,373.3 L1140.5,372.8 L1144.8,372.2 L1149.1,371.6 L1153.4,371.0 L1157.7,370.5 L1162.0,369.9 L1166.3,369.3 L1170.6,368.7 L1174.9,368.2 L1179.2,367.6 L1183.6,367.0 L1187.9,366.4 L1192.2,365.8 L1196.6,365.3 L1200.9,364.7 L1205.3,364.1 L1209.7,363.5 L1214.0,362.9 L1218.4,362.3 L1222.8,361.7 L1227.1,361.1 L1231.5,360.5 L1235.9,359.9 L1240.3,359.3 L1244.7,358.7 L1249.1,358.1 L1253.5,357.5 L1258.0,356.9 L1262.4,356.3 L1266.8,355.7 L1271.3,355.1 L1275.7,354.5 L1280.1,353.9 L1284.6,353.3 L1289.0,352.6 L1293.5,352.0 L1298.0,351.4 L1302.4,350.8 L1306.9,350.2 L1311.4,349.6 L1315.9,348.9 L1320.4,348.3 L1324.9,347.7 L1329.4,347.1 L1333.9,346.5 L1338.4,345.9 L1342.9,345.2 L1347.4,344.6 L1351.9,344.0 L1356.5,343.4 L1361.0,342.7 L1365.5,342.1 L1370.1,341.5 L1374.6,340.9 L1379.2,340.3 L1383.8,339.6 L1388.3,339.0 L1392.9,338.4 L1397.5,337.8 L1402.1,337.2 L1406.7,336.5 L1411.2,335.9 L1415.8,335.3 L1420.4,334.7 L1425.1,334.1 L1429.7,333.4 L1434.3,332.8 L1438.9,332.2 L1443.5,331.6 L1448.2,331.0 L1452.8,330.4 L1457.5,329.8 L1462.1,329.1 L1466.8,328.5 L1471.4,327.9 L1476.1,327.3 L1480.8,326.7 L1485.4,326.1 L1490.1,325.5 L1494.8,324.9 L1499.5,324.3 L1504.2,323.7 L1508.9,323.1 L1513.6,322.5 L1518.3,321.9 L1523.0,321.3 L1527.7,320.7 L1532.5,320.2 L1537.2,319.6 L1541.9,319.0 L1546.7,318.4 L1551.4,317.8 L1556.2,317.2 L1560.9,316.7 L1565.7,316.1 L1570.5,315.5 L1575.3,315.0 L1580.0,314.4 L1584.8,313.8 L1589.6,313.3 L1594.4,312.7 L1599.2,312.2 L1604.0,311.6" stroke="#0000ff" stroke-opacity="0.45" stroke-width="8.0" stroke-linecap="round"/>
<path d="M222.9,851.4 L223.6,850.0 L224.3,848.6 L225.0,847.2 L225.7,845.8 L226.4,844.4 L227.1,843.0 L227.9,841.6 L228.6,840.1 L229.4,838.7 L230.1,837.2 L230.9,835.7 L231.7,834.2 L232.5,832.7 L233.3,831.2 L234.1,829.6 L234.9,828.1 L235.7,826.6 L236.5,825.0 L237.4,823.4 L238.2,821.8 L239.0,820.3 L239.9,818.7 L240.8,817.0 L241.6,815.4 L242.5,813.8 L243.4,812.1 L244.3,810.5 L245.2,808.8 L246.2,807.2 L247.1,805.5 L248.0,803.8 L249.0,802.1 L249.9,800.4 L250.9,798.7 L251.8,797.0 L252.8,795.2 L253.8,793.5 L254.8,791.8 L255.8,790.0 L256.8,788.2 L257.9,786.5 L258.9,784.7 L259.9,782.9 L261.0,781.1 L262.0,779.3 L263.1,777.5 L264.2,775.7 L265.3,773.9 L266.4,772.0 L267.5,770.2 L268.6,768.4 L269.7,766.5 L270.9,764.7 L272.0,762.8 L273.2,760.9 L274.3,759.1 L275.5,757.2 L276.7,755.3 L277.9,753.4 L279.1,751.5 L280.3,749.6 L281.5,747.7 L282.8,745.8 L284.0,743.9 L285.3,741.9 L286.6,740.0 L287.8,738.1 L289.1,736.1 L290.4,734.2 L291.8,732.2 L293.1,730.3 L294.4,728.3 L295.8,726.4 L297.1,724.4 L298.5,722.4 L299.9,720.5 L301.3,718.5 L302.7,716.5 L304.1,714.5 L305.5,712.5 L307.0,710.6 L308.5,708.6 L309.9,706.6 L311.4,704.6 L312.9,702.6 L314.4,700.6 L315.9,698.6 L317.5,696.5 L319.0,694.5 L320.6,692.5 L322.1,690.5 L323.7,688.5 L325.3,686.5 L327.0,684.5 L328.6,682.4 L330.2,680.4 L331.9,678.4 L333.6,676.4 L335.2,674.3 L336.9,672.3 L338.7,670.3 L340.4,668.3 L342.1,666.2 L343.9,664.2 L345.6,662.2 L347.4,660.2 L349.2,658.1 L351.0,656.1 L352.9,654.1 L354.7,652.0 L356.6,650.0 L358.4,648.0 L360.3,646.0 L362.2,644.0 L364.1,641.9 L366.0,639.9 L368.0,637.9 L369.9,635.9 L371.9,633.9 L373.9,631.9 L375.9,629.8 L377.9,627.8 L379.9,625.8 L382.0,623.8 L384.0,621.8 L386.1,619.8 L388.2,617.9 L390.3,615.9 L392.4,613.9 L394.5,611.9 L396.6,609.9 L398.8,607.9 L401.0,606.0 L403.2,604.0 L405.4,602.1 L407.6,600.1 L409.8,598.2 L412.1,596.2 L414.3,594.3 L416.6,592.3 L418.9,590.4 L421.2,588.5 L423.5,586.6 L425.8,584.7 L428.2,582.7 L430.5,580.9 L432.9,579.0 L435.3,577.1 L437.7,575.2 L440.1,573.3 L442.6,571.5 L445.0,569.6 L447.5,567.8 L450.0,565.9 L452.5,564.1 L455.0,562.3 L457.5,560.5 L460.0,558.6 L462.6,556.9 L465.2,555.1 L467.7,553.3 L470.3,551.5 L473.0,549.8 L475.6,548.0 L478.2,546.3 L480.9,544.5 L483.5,542.8 L486.2,541.1 L488.9,539.4 L491.6,537.7 L494.4,536.1 L497.1,534.4 L499.9,532.7 L502.6,531.1 L505.4,529.5 L508.2,527.9 L511.0,526.3 L513.9,524.7 L516.7,523.1 L519.6,521.5 L522.5,520.0 L525.3,518.4 L528.2,516.9 L531.2,515.4 L534.1,513.9 L537.0,512.4 L540.0,510.9 L542.9,509.4 L545.9,508.0 L548.9,506.5 L551.9,505.1 L555.0,503.7 L558.0,502.3 L561.1,500.9 L564.1,499.5 L567.2,498.1 L570.3,496.8 L573.4,495.4 L576.5,494.1 L579.6,492.7 L582.8,491.4 L585.9,490.1 L589.1,488.8 L592.3,487.5 L595.5,486.3 L598.7,485.0 L601.9,483.8 L605.1,482.5 L608.4,481.3 L611.6,480.1 L614.9,478.9 L618.2,477.7 L621.5,476.5 L624.8,475.3 L628.1,474.2 L631.4,473.0 L634.7,471.9 L638.1,470.7 L641.5,469.6 L644.8,468.5 L648.2,467.4 L651.6,466.3 L655.0,465.2 L658.4,464.1 L661.8,463.1 L665.3,462.0 L668.7,461.0 L672.2,459.9 L675.6,458.9 L679.1,457.9 L682.6,456.8 L686.1,455.8 L689.6,454.8 L693.1,453.9 L696.6,452.9 L700.2,451.9 L703.7,450.9 L707.3,450.0 L710.8,449.0 L714.4,448.1 L718.0,447.1 L721.6,446.2 L725.1,445.3 L728.7,444.4 L732.4,443.5 L736.0,442.6 L739.6,441.7 L743.2,440.8 L746.9,439.9 L750.5,439.0 L754.2,438.1 L757.9,437.3 L761.5,436.4 L765.2,435.6 L768.9,434.7 L772.6,433.9 L776.3,433.0 L780.0,432.2 L783.7,431.4 L787.4,430.5 L791.1,429.7 L794.9,428.9 L798.6,428.1 L802.4,427.3 L806.1,426.5 L809.9,425.7 L813.7,424.9 L817.4,424.1 L821.2,423.3 L825.0,422.6 L828.8,421.8 L832.6,421.0 L836.4,420.3 L840.2,419.5 L844.1,418.8 L847.9,418.0 L851.7,417.3 L855.6,416.5 L859.4,415.8 L863.3,415.1 L867.2,414.3 L871.0,413.6 L874.9,412.9 L878.8,412.2 L882.7,411.5 L886.6,410.8 L890.5,410.1 L894.4,409.4 L898.3,408.7 L902.2,408.0 L906.2,407.3 L910.1,406.6 L914.0,406.0 L918.0,405.3 L922.0,404.6 L925.9,404.0 L929.9,403.3 L933.9,402.6 L937.8,402.0 L941.8,401.3 L945.8,400.7 L949.8,400.1 L953.8,399.4 L957.9,398.8 L961.9,398.1 L965.9,397.5 L969.9,396.9 L974.0,396.3 L978.0,395.6 L982.1,395.0 L986.1,394.4 L990.2,393.8 L994.3,393.2 L998.4,392.6 L1002.4,391.9 L1006.5,391.3 L1010.6,390.7 L1014.7,390.1 L1018.8,389.5 L1022.9,388.9 L1027.1,388.4 L1031.2,387.8 L1035.3,387.2 L1039.5,386.6 L1043.6,386.0 L1047.8,385.4 L1051.9,384.8 L1056.1,384.2 L1060.2,383.7 L1064.4,383.1 L1068.6,382.5 L1072.8,381.9 L1077.0,381.3 L1081.2,380.8 L1085.4,380.2 L1089.6,379.6 L1093.8,379.0 L1098.0,378.5 L1102.2,377.9 L1106.5,377.3 L1110.7,376.8 L1114.9,376.2 L1119.2,375.6 L1123.4,375.0 L1127.7,374.5 L1132.0,373.9 L1136.2,373.3 L1140.5,372.8 L1144.8,372.2 L1149.1,371.6 L1153.4,371.0 L1157.7,370.5 L1162.0,369.9 L1166.3,369.3 L1170.6,368.7 L1174.9,368.2 L1179.2,367.6 L1183.6,367.0 L1187.9,366.4 L1192.2,365.8 L1196.6,365.3 L1200.9,364.7 L1205.3,364.1 L1209.7,363.5 L1214.0,362.9 L1218.4,362.3 L1222.8,361.7 L1227.1,361.1 L1231.5,360.5 L1235.9,359.9 L1240.3,359.3 L1244.7,358.7 L1249.1,358.1 L1253.5,357.5 L1258.0,356.9 L1262.4,356.3 L1266.8,355.7 L1271.3,355.1 L1275.7,354.5 L1280.1,353.9 L1284.6,353.3 L1289.0,352.6 L1293.5,352.0 L1298.0,351.4 L1302.4,350.8 L1306.9,350.2 L1311.4,349.6 L1315.9,348.9 L1320.4,348.3 L1324.9,347.7 L1329.4,347.1 L1333.9,346.5 L1338.4,345.9 L1342.9,345.2 L1347.4,344.6 L1351.9,344.0 L1356.5,343.4 L1361.0,342.7 L1365.5,342.1 L1370.1,341.5 L1374.6,340.9 L1379.2,340.3 L1383.8,339.6 L1388.3,339.0 L1392.9,338.4 L1397.5,337.8 L1402.1,337.2 L1406.7,336.5 L1411.2,335.9 L1415.8,335.3 L1420.4,334.7 L1425.1,334.1 L1429.7,333.4 L1434.3,332.8 L1438.9,332.2 L1443.5,331.6 L1448.2,331.0 L1452.8,330.4 L1457.5,329.8 L1462.1,329.1 L1466.8,328.5 L1471.4,327.9 L1476.1,327.3 L1480.8,326.7 L1485.4,326.1 L1490.1,325.5 L1494.8,324.9 L1499.5,324.3 L1504.2,323.7 L1508.9,323.1 L1513.6,322.5 L1518.3,321.9 L1523.0,321.3 L1527.7,320.7 L1532.5,320.2 L1537.2,319.6 L1541.9,319.0 L1546.7,318.4 L1551.4,317.8 L1556.2,317.2 L1560.9,316.7 L1565.7,316.1 L1570.5,315.5 L1575.3,315.0 L1580.0,314.4 L1584.8,313.8 L1589.6,313.3 L1594.4,312.7 L1599.2,312.2 L1604.0,311.6" stroke="#0000ff" stroke-width="3.4"/>
<path d="M196.2,890.9 L196.4,890.8 L196.7,890.8 L197.1,890.7 L197.5,890.6 L198.0,890.5 L198.5,890.3 L199.0,890.1 L199.6,889.9 L200.2,889.6 L200.8,889.3 L201.4,889.0 L202.0,888.6 L202.6,888.1 L203.2,887.6 L203.8,887.0 L204.4,886.4 L205.0,885.8 L205.6,885.1 L206.1,884.3 L206.7,883.5 L207.2,882.7 L207.8,881.8 L208.3,880.8 L208.9,879.9 L209.4,878.9 L209.9,877.9 L210.5,876.8 L211.0,875.7 L211.6,874.6 L212.1,873.5 L212.7,872.4 L213.2,871.2 L213.8,870.0 L214.4,868.8 L214.9,867.6 L215.5,866.4 L216.1,865.1 L216.7,863.8 L217.2,862.5 L217.8,861.2 L218.4,859.9 L219.0,858.5 L219.6,857.1 L220.3,855.8 L220.9,854.4 L221.5,852.9 L222.2,851.5 L222.8,850.1 L223.5,848.6 L224.2,847.2 L224.8,845.7 L225.5,844.2 L226.2,842.7 L226.9,841.1 L227.7,839.6 L228.4,838.1 L229.1,836.5 L229.8,834.9 L230.6,833.3 L231.4,831.7 L232.1,830.1 L232.9,828.5 L233.7,826.9 L234.5,825.2 L235.3,823.6 L236.1,821.9 L236.9,820.2 L237.7,818.6 L238.6,816.9 L239.4,815.2 L240.3,813.4 L241.1,811.7 L242.0,810.0 L242.9,808.2 L243.8,806.4 L244.6,804.7 L245.5,802.9 L246.5,801.1 L247.4,799.3 L248.3,797.5 L249.2,795.7 L250.2,793.8 L251.1,792.0 L252.1,790.1 L253.1,788.3 L254.1,786.4 L255.0,784.5 L256.0,782.7 L257.1,780.8 L258.1,778.9 L259.1,776.9 L260.1,775.0 L261.2,773.1 L262.2,771.2 L263.3,769.2 L264.3,767.2 L265.4,765.3 L266.5,763.3 L267.6,761.3 L268.7,759.3 L269.8,757.3 L270.9,755.3 L272.0,753.3 L273.2,751.3 L274.3,749.3 L275.5,747.2 L276.6,745.2 L277.8,743.1 L279.0,741.1 L280.2,739.0 L281.4,736.9 L282.6,734.9 L283.8,732.8 L285.0,730.7 L286.2,728.6 L287.5,726.4 L288.7,724.3 L290.0,722.2 L291.2,720.1 L292.5,717.9 L293.8,715.8 L295.1,713.6 L296.4,711.5 L297.7,709.3 L299.0,707.1 L300.3,704.9 L301.7,702.7 L303.0,700.5 L304.4,698.3 L305.7,696.1 L307.1,693.9 L308.5,691.7 L309.8,689.5 L311.2,687.2 L312.6,685.0 L314.1,682.7 L315.5,680.5 L316.9,678.2 L318.3,675.9 L319.8,673.7 L321.2,671.4 L322.7,669.1 L324.2,666.8 L325.7,664.5 L327.2,662.2 L328.7,659.9 L330.2,657.6 L331.7,655.2 L333.2,652.9 L334.8,650.6 L336.3,648.3 L337.9,645.9 L339.5,643.6 L341.0,641.2 L342.6,638.9 L344.2,636.5 L345.8,634.2 L347.5,631.8 L349.1,629.4 L350.7,627.1 L352.4,624.7 L354.1,622.3 L355.7,619.9 L357.4,617.5 L359.1,615.1 L360.8,612.8 L362.6,610.4 L364.3,608.0 L366.0,605.6 L367.8,603.2 L369.6,600.8 L371.3,598.4 L373.1,595.9 L374.9,593.5 L376.7,591.1 L378.6,588.7 L380.4,586.3 L382.3,583.9 L384.1,581.5 L386.0,579.1 L387.9,576.6 L389.8,574.2 L391.7,571.8 L393.7,569.4 L395.6,567.0 L397.6,564.5 L399.5,562.1 L401.5,559.7 L403.5,557.3 L405.5,554.9 L407.5,552.5 L409.6,550.0 L411.6,547.6 L413.7,545.2 L415.8,542.8 L417.9,540.4 L420.0,538.0 L422.1,535.6 L424.3,533.2 L426.4,530.8 L428.6,528.4 L430.8,526.0 L433.0,523.6 L435.2,521.2 L437.5,518.8 L439.7,516.4 L442.0,514.0 L444.3,511.7 L446.6,509.3 L448.9,506.9 L451.2,504.5 L453.5,502.2 L455.9,499.8 L458.3,497.5 L460.7,495.1 L463.1,492.8 L465.5,490.4 L467.9,488.1 L470.4,485.8 L472.9,483.4 L475.4,481.1 L477.9,478.8 L480.4,476.5 L482.9,474.2 L485.4,471.8 L488.0,469.5 L490.6,467.3 L493.2,465.0 L495.8,462.7 L498.4,460.4 L501.0,458.1 L503.7,455.9 L506.4,453.6 L509.0,451.4 L511.7,449.1 L514.5,446.9 L517.2,444.6 L519.9,442.4 L522.7,440.2 L525.5,438.0 L528.2,435.8 L531.0,433.6 L533.9,431.4 L536.7,429.2 L539.5,427.0 L542.4,424.9 L545.3,422.7 L548.2,420.5 L551.1,418.4 L554.0,416.3 L556.9,414.1 L559.9,412.0 L562.9,409.9 L565.8,407.8 L568.8,405.7 L571.8,403.6 L574.9,401.6 L577.9,399.5 L581.0,397.4 L584.0,395.4 L587.1,393.4 L590.2,391.3 L593.3,389.3 L596.4,387.3 L599.6,385.3 L602.7,383.3 L605.9,381.3 L609.0,379.4 L612.2,377.4 L615.4,375.5 L618.7,373.5 L621.9,371.6 L625.1,369.7 L628.4,367.8 L631.7,365.9 L635.0,364.0 L638.3,362.2 L641.6,360.3 L644.9,358.5 L648.2,356.6 L651.6,354.8 L654.9,353.0 L658.3,351.2 L661.7,349.4 L665.1,347.7 L668.5,345.9 L671.9,344.2 L675.4,342.4 L678.8,340.7 L682.3,339.0 L685.8,337.3 L689.3,335.6 L692.8,333.9 L696.3,332.3 L699.8,330.6 L703.4,329.0 L706.9,327.3 L710.5,325.7 L714.1,324.1 L717.7,322.5 L721.3,320.9 L724.9,319.4 L728.5,317.8 L732.1,316.3 L735.8,314.7 L739.5,313.2 L743.1,311.7 L746.8,310.2 L750.5,308.7 L754.2,307.2 L758.0,305.8 L761.7,304.3 L765.5,302.9 L769.2,301.4 L773.0,300.0 L776.8,298.6 L780.6,297.2 L784.4,295.8 L788.2,294.4 L792.0,293.1 L795.9,291.7 L799.7,290.4 L803.6,289.0 L807.5,287.7 L811.3,286.4 L815.2,285.1 L819.1,283.8 L823.1,282.5 L827.0,281.3 L830.9,280.0 L834.9,278.8 L838.9,277.5 L842.8,276.3 L846.8,275.1 L850.8,273.9 L854.8,272.7 L858.8,271.5 L862.9,270.3 L866.9,269.1 L870.9,268.0 L875.0,266.8 L879.1,265.7 L883.1,264.6 L887.2,263.4 L891.3,262.3 L895.4,261.2 L899.6,260.1 L903.7,259.1 L907.8,258.0 L912.0,256.9 L916.1,255.9 L920.3,254.8 L924.5,253.8 L928.7,252.7 L932.9,251.7 L937.1,250.7 L941.3,249.7 L945.5,248.7 L949.7,247.7 L954.0,246.7 L958.2,245.8 L962.5,244.8 L966.8,243.9 L971.0,242.9 L975.3,242.0 L979.6,241.0 L983.9,240.1 L988.2,239.2 L992.5,238.3 L996.9,237.4 L1001.2,236.5 L1005.5,235.6 L1009.9,234.7 L1014.3,233.8 L1018.6,233.0 L1023.0,232.1 L1027.4,231.2 L1031.8,230.4 L1036.2,229.5 L1040.6,228.7 L1045.0,227.9 L1049.4,227.0 L1053.8,226.2 L1058.3,225.4 L1062.7,224.6 L1067.1,223.8 L1071.6,223.0 L1076.1,222.2 L1080.5,221.4 L1085.0,220.6 L1089.5,219.8 L1094.0,219.1 L1098.4,218.3 L1102.9,217.5 L1107.4,216.8 L1112.0,216.0 L1116.5,215.3 L1121.0,214.5 L1125.5,213.8 L1130.1,213.0 L1134.6,212.3 L1139.1,211.5 L1143.7,210.8 L1148.2,210.1 L1152.8,209.3 L1157.4,208.6 L1161.9,207.9 L1166.5,207.2 L1171.1,206.5 L1175.7,205.7 L1180.2,205.0 L1184.8,204.3 L1189.4,203.6 L1194.0,202.9 L1198.6,202.2 L1203.2,201.5 L1207.8,200.8 L1212.5,200.1 L1217.1,199.4 L1221.7,198.6 L1226.3,197.9 L1230.9,197.2 L1235.6,196.5 L1240.2,195.8 L1244.9,195.1 L1249.5,194.4 L1254.2,193.7 L1258.8,193.0 L1263.5,192.3 L1268.1,191.7 L1272.8,191.0 L1277.5,190.3 L1282.1,189.6 L1286.8,188.9 L1291.5,188.2 L1296.2,187.5 L1300.9,186.8 L1305.6,186.1 L1310.3,185.4 L1315.0,184.7 L1319.7,184.1 L1324.4,183.4 L1329.2,182.7 L1333.9,182.0 L1338.6,181.3 L1343.4,180.6 L1348.1,180.0 L1352.9,179.3 L1357.6,178.6 L1362.4,177.9 L1367.2,177.2 L1371.9,176.6 L1376.7,175.9 L1381.5,175.2 L1386.3,174.5 L1391.1,173.8 L1395.9,173.2 L1400.7,172.5 L1405.5,171.8 L1410.3,171.1 L1415.2,170.5 L1420.0,169.8 L1424.8,169.1 L1429.7,168.4 L1434.5,167.8 L1439.4,167.1 L1444.3,166.4 L1449.1,165.8 L1454.0,165.1 L1458.9,164.4 L1463.8,163.8 L1468.7,163.1 L1473.6,162.4 L1478.5,161.7 L1483.5,161.1 L1488.4,160.4 L1493.3,159.7 L1498.3,159.1 L1503.2,158.4 L1508.2,157.7 L1513.2,157.1 L1518.1,156.4 L1523.1,155.7 L1528.1,155.1 L1533.1,154.4 L1538.1,153.8 L1543.1,153.1 L1548.2,152.4 L1553.2,151.8 L1558.2,151.1 L1563.3,150.4 L1568.4,149.8 L1573.4,149.1 L1578.5,148.4 L1583.6,147.8 L1588.7,147.1 L1593.8,146.4 L1598.9,145.8 L1604.0,145.1" stroke="#ff00ff" stroke-opacity="0.45" stroke-width="8.0" stroke-linecap="round"/>
<path d="M196.2,890.9 L196.4,890.8 L196.7,890.8 L197.1,890.7 L197.5,890.6 L198.0,890.5 L198.5,890.3 L199.0,890.1 L199.6,889.9 L200.2,889.6 L200.8,889.3 L201.4,889.0 L202.0,888.6 L202.6,888.1 L203.2,887.6 L203.8,887.0 L204.4,886.4 L205.0,885.8 L205.6,885.1 L206.1,884.3 L206.7,883.5 L207.2,882.7 L207.8,881.8 L208.3,880.8 L208.9,879.9 L209.4,878.9 L209.9,877.9 L210.5,876.8 L211.0,875.7 L211.6,874.6 L212.1,873.5 L212.7,872.4 L213.2,871.2 L213.8,870.0 L214.4,868.8 L214.9,867.6 L215.5,866.4 L216.1,865.1 L216.7,863.8 L217.2,862.5 L217.8,861.2 L218.4,859.9 L219.0,858.5 L219.6,857.1 L220.3,855.8 L220.9,854.4 L221.5,852.9 L222.2,851.5 L222.8,850.1 L223.5,848.6 L224.2,847.2 L224.8,845.7 L225.5,844.2 L226.2,842.7 L226.9,841.1 L227.7,839.6 L228.4,838.1 L229.1,836.5 L229.8,834.9 L230.6,833.3 L231.4,831.7 L232.1,830.1 L232.9,828.5 L233.7,826.9 L234.5,825.2 L235.3,823.6 L236.1,821.9 L236.9,820.2 L237.7,818.6 L238.6,816.9 L239.4,815.2 L240.3,813.4 L241.1,811.7 L242.0,810.0 L242.9,808.2 L243.8,806.4 L244.6,804.7 L245.5,802.9 L246.5,801.1 L247.4,799.3 L248.3,797.5 L249.2,795.7 L250.2,793.8 L251.1,792.0 L252.1,790.1 L253.1,788.3 L254.1,786.4 L255.0,784.5 L256.0,782.7 L257.1,780.8 L258.1,778.9 L259.1,776.9 L260.1,775.0 L261.2,773.1 L262.2,771.2 L263.3,769.2 L264.3,767.2 L265.4,765.3 L266.5,763.3 L267.6,761.3 L268.7,759.3 L269.8,757.3 L270.9,755.3 L272.0,753.3 L273.2,751.3 L274.3,749.3 L275.5,747.2 L276.6,745.2 L277.8,743.1 L279.0,741.1 L280.2,739.0 L281.4,736.9 L282.6,734.9 L283.8,732.8 L285.0,730.7 L286.2,728.6 L287.5,726.4 L288.7,724.3 L290.0,722.2 L291.2,720.1 L292.5,717.9 L293.8,715.8 L295.1,713.6 L296.4,711.5 L297.7,709.3 L299.0,707.1 L300.3,704.9 L301.7,702.7 L303.0,700.5 L304.4,698.3 L305.7,696.1 L307.1,693.9 L308.5,691.7 L309.8,689.5 L311.2,687.2 L312.6,685.0 L314.1,682.7 L315.5,680.5 L316.9,678.2 L318.3,675.9 L319.8,673.7 L321.2,671.4 L322.7,669.1 L324.2,666.8 L325.7,664.5 L327.2,662.2 L328.7,659.9 L330.2,657.6 L331.7,655.2 L333.2,652.9 L334.8,650.6 L336.3,648.3 L337.9,645.9 L339.5,643.6 L341.0,641.2 L342.6,638.9 L344.2,636.5 L345.8,634.2 L347.5,631.8 L349.1,629.4 L350.7,627.1 L352.4,624.7 L354.1,622.3 L355.7,619.9 L357.4,617.5 L359.1,615.1 L360.8,612.8 L362.6,610.4 L364.3,608.0 L366.0,605.6 L367.8,603.2 L369.6,600.8 L371.3,598.4 L373.1,595.9 L374.9,593.5 L376.7,591.1 L378.6,588.7 L380.4,586.3 L382.3,583.9 L384.1,581.5 L386.0,579.1 L387.9,576.6 L389.8,574.2 L391.7,571.8 L393.7,569.4 L395.6,567.0 L397.6,564.5 L399.5,562.1 L401.5,559.7 L403.5,557.3 L405.5,554.9 L407.5,552.5 L409.6,550.0 L411.6,547.6 L413.7,545.2 L415.8,542.8 L417.9,540.4 L420.0,538.0 L422.1,535.6 L424.3,533.2 L426.4,530.8 L428.6,528.4 L430.8,526.0 L433.0,523.6 L435.2,521.2 L437.5,518.8 L439.7,516.4 L442.0,514.0 L444.3,511.7 L446.6,509.3 L448.9,506.9 L451.2,504.5 L453.5,502.2 L455.9,499.8 L458.3,497.5 L460.7,495.1 L463.1,492.8 L465.5,490.4 L467.9,488.1 L470.4,485.8 L472.9,483.4 L475.4,481.1 L477.9,478.8 L480.4,476.5 L482.9,474.2 L485.4,471.8 L488.0,469.5 L490.6,467.3 L493.2,465.0 L495.8,462.7 L498.4,460.4 L501.0,458.1 L503.7,455.9 L506.4,453.6 L509.0,451.4 L511.7,449.1 L514.5,446.9 L517.2,444.6 L519.9,442.4 L522.7,440.2 L525.5,438.0 L528.2,435.8 L531.0,433.6 L533.9,431.4 L536.7,429.2 L539.5,427.0 L542.4,424.9 L545.3,422.7 L548.2,420.5 L551.1,418.4 L554.0,416.3 L556.9,414.1 L559.9,412.0 L562.9,409.9 L565.8,407.8 L568.8,405.7 L571.8,403.6 L574.9,401.6 L577.9,399.5 L581.0,397.4 L584.0,395.4 L587.1,393.4 L590.2,391.3 L593.3,389.3 L596.4,387.3 L599.6,385.3 L602.7,383.3 L605.9,381.3 L609.0,379.4 L612.2,377.4 L615.4,375.5 L618.7,373.5 L621.9,371.6 L625.1,369.7 L628.4,367.8 L631.7,365.9 L635.0,364.0 L638.3,362.2 L641.6,360.3 L644.9,358.5 L648.2,356.6 L651.6,354.8 L654.9,353.0 L658.3,351.2 L661.7,349.4 L665.1,347.7 L668.5,345.9 L671.9,344.2 L675.4,342.4 L678.8,340.7 L682.3,339.0 L685.8,337.3 L689.3,335.6 L692.8,333.9 L696.3,332.3 L699.8,330.6 L703.4,329.0 L706.9,327.3 L710.5,325.7 L714.1,324.1 L717.7,322.5 L721.3,320.9 L724.9,319.4 L728.5,317.8 L732.1,316.3 L735.8,314.7 L739.5,313.2 L743.1,311.7 L746.8,310.2 L750.5,308.7 L754.2,307.2 L758.0,305.8 L761.7,304.3 L765.5,302.9 L769.2,301.4 L773.0,300.0 L776.8,298.6 L780.6,297.2 L784.4,295.8 L788.2,294.4 L792.0,293.1 L795.9,291.7 L799.7,290.4 L803.6,289.0 L807.5,287.7 L811.3,286.4 L815.2,285.1 L819.1,283.8 L823.1,282.5 L827.0,281.3 L830.9,280.0 L834.9,278.8 L838.9,277.5 L842.8,276.3 L846.8,275.1 L850.8,273.9 L854.8,272.7 L858.8,271.5 L862.9,270.3 L866.9,269.1 L870.9,268.0 L875.0,266.8 L879.1,265.7 L883.1,264.6 L887.2,263.4 L891.3,262.3 L895.4,261.2 L899.6,260.1 L903.7,259.1 L907.8,258.0 L912.0,256.9 L916.1,255.9 L920.3,254.8 L924.5,253.8 L928.7,252.7 L932.9,251.7 L937.1,250.7 L941.3,249.7 L945.5,248.7 L949.7,247.7 L954.0,246.7 L958.2,245.8 L962.5,244.8 L966.8,243.9 L971.0,242.9 L975.3,242.0 L979.6,241.0 L983.9,240.1 L988.2,239.2 L992.5,238.3 L996.9,237.4 L1001.2,236.5 L1005.5,235.6 L1009.9,234.7 L1014.3,233.8 L1018.6,233.0 L1023.0,232.1 L1027.4,231.2 L1031.8,230.4 L1036.2,229.5 L1040.6,228.7 L1045.0,227.9 L1049.4,227.0 L1053.8,226.2 L1058.3,225.4 L1062.7,224.6 L1067.1,223.8 L1071.6,223.0 L1076.1,222.2 L1080.5,221.4 L1085.0,220.6 L1089.5,219.8 L1094.0,219.1 L1098.4,218.3 L1102.9,217.5 L1107.4,216.8 L1112.0,216.0 L1116.5,215.3 L1121.0,214.5 L1125.5,213.8 L1130.1,213.0 L1134.6,212.3 L1139.1,211.5 L1143.7,210.8 L1148.2,210.1 L1152.8,209.3 L1157.4,208.6 L1161.9,207.9 L1166.5,207.2 L1171.1,206.5 L1175.7,205.7 L1180.2,205.0 L1184.8,204.3 L1189.4,203.6 L1194.0,202.9 L1198.6,202.2 L1203.2,201.5 L1207.8,200.8 L1212.5,200.1 L1217.1,199.4 L1221.7,198.6 L1226.3,197.9 L1230.9,197.2 L1235.6,196.5 L1240.2,195.8 L1244.9,195.1 L1249.5,194.4 L1254.2,193.7 L1258.8,193.0 L1263.5,192.3 L1268.1,191.7 L1272.8,191.0 L1277.5,190.3 L1282.1,189.6 L1286.8,188.9 L1291.5,188.2 L1296.2,187.5 L1300.9,186.8 L1305.6,186.1 L1310.3,185.4 L1315.0,184.7 L1319.7,184.1 L1324.4,183.4 L1329.2,182.7 L1333.9,182.0 L1338.6,181.3 L1343.4,180.6 L1348.1,180.0 L1352.9,179.3 L1357.6,178.6 L1362.4,177.9 L1367.2,177.2 L1371.9,176.6 L1376.7,175.9 L1381.5,175.2 L1386.3,174.5 L1391.1,173.8 L1395.9,173.2 L1400.7,172.5 L1405.5,171.8 L1410.3,171.1 L1415.2,170.5 L1420.0,169.8 L1424.8,169.1 L1429.7,168.4 L1434.5,167.8 L1439.4,167.1 L1444.3,166.4 L1449.1,165.8 L1454.0,165.1 L1458.9,164.4 L1463.8,163.8 L1468.7,163.1 L1473.6,162.4 L1478.5,161.7 L1483.5,161.1 L1488.4,160.4 L1493.3,159.7 L1498.3,159.1 L1503.2,158.4 L1508.2,157.7 L1513.2,157.1 L1518.1,156.4 L1523.1,155.7 L1528.1,155.1 L1533.1,154.4 L1538.1,153.8 L1543.1,153.1 L1548.2,152.4 L1553.2,151.8 L1558.2,151.1 L1563.3,150.4 L1568.4,149.8 L1573.4,149.1 L1578.5,148.4 L1583.6,147.8 L1588.7,147.1 L1593.8,146.4 L1598.9,145.8 L1604.0,145.1" stroke="#ff00ff" stroke-width="3.4"/>
</g>
<rect x="178" y="887.30" width="15" height="6.0" fill="#909090"/>
<rect x="179" y="889.00" width="14" height="2.6" fill="#000"/>
<text x="167.5" y="903.8" font-size="47" text-anchor="end">15</text>
<rect x="178" y="724.24" width="15" height="6.0" fill="#909090"/>
<rect x="179" y="725.94" width="14" height="2.6" fill="#000"/>
<text x="167.5" y="740.7" font-size="47" text-anchor="end">30</text>
<rect x="178" y="561.18" width="15" height="6.0" fill="#909090"/>
<rect x="179" y="562.88" width="14" height="2.6" fill="#000"/>
<text x="167.5" y="577.7" font-size="47" text-anchor="end">45</text>
<rect x="178" y="398.12" width="15" height="6.0" fill="#909090"/>
<rect x="179" y="399.82" width="14" height="2.6" fill="#000"/>
<text x="167.5" y="414.6" font-size="47" text-anchor="end">60</text>
<rect x="178" y="235.06" width="15" height="6.0" fill="#909090"/>
<rect x="179" y="236.76" width="14" height="2.6" fill="#000"/>
<text x="167.5" y="251.6" font-size="47" text-anchor="end">75</text>
<rect x="178" y="72.00" width="15" height="6.0" fill="#909090"/>
<rect x="179" y="73.70" width="14" height="2.6" fill="#000"/>
<text x="167.5" y="88.5" font-size="47" text-anchor="end">90</text>
<rect x="187" y="805.77" width="6" height="6.0" fill="#909090"/>
<rect x="188" y="807.47" width="5" height="2.6" fill="#000"/>
<rect x="187" y="642.71" width="6" height="6.0" fill="#909090"/>
<rect x="188" y="644.41" width="5" height="2.6" fill="#000"/>
<rect x="187" y="479.65" width="6" height="6.0" fill="#909090"/>
<rect x="188" y="481.35" width="5" height="2.6" fill="#000"/>
<rect x="187" y="316.59" width="6" height="6.0" fill="#909090"/>
<rect x="188" y="318.29" width="5" height="2.6" fill="#000"/>
<rect x="187" y="153.53" width="6" height="6.0" fill="#909090"/>
<rect x="188" y="155.23" width="5" height="2.6" fill="#000"/>
<text x="195.8" y="1009" font-size="47" text-anchor="middle">0</text>
<rect x="416.10" y="946" width="5.8" height="15" fill="#808080"/>
<rect x="416.90" y="946" width="4.2" height="14" fill="#000"/>
<text x="419.0" y="1009" font-size="47" text-anchor="middle">200</text>
<rect x="639.30" y="946" width="5.8" height="15" fill="#808080"/>
<rect x="640.10" y="946" width="4.2" height="14" fill="#000"/>
<text x="642.2" y="1009" font-size="47" text-anchor="middle">400</text>
<rect x="862.50" y="946" width="5.8" height="15" fill="#808080"/>
<rect x="863.30" y="946" width="4.2" height="14" fill="#000"/>
<text x="865.4" y="1009" font-size="47" text-anchor="middle">600</text>
<rect x="1085.70" y="946" width="5.8" height="15" fill="#808080"/>
<rect x="1086.50" y="946" width="4.2" height="14" fill="#000"/>
<text x="1088.6" y="1009" font-size="47" text-anchor="middle">800</text>
<rect x="1308.90" y="946" width="5.8" height="15" fill="#808080"/>
<rect x="1309.70" y="946" width="4.2" height="14" fill="#000"/>
<text x="1311.8" y="1009" font-size="47" text-anchor="middle">1000</text>
<rect x="1532.10" y="946" width="5.8" height="15" fill="#808080"/>
<rect x="1532.90" y="946" width="4.2" height="14" fill="#000"/>
<text x="1535.0" y="1009" font-size="47" text-anchor="middle">1200</text>
<rect x="304.50" y="946" width="5.8" height="8.5" fill="#808080"/>
<rect x="305.30" y="946" width="4.2" height="7.5" fill="#000"/>
<rect x="527.70" y="946" width="5.8" height="8.5" fill="#808080"/>
<rect x="528.50" y="946" width="4.2" height="7.5" fill="#000"/>
<rect x="750.90" y="946" width="5.8" height="8.5" fill="#808080"/>
<rect x="751.70" y="946" width="4.2" height="7.5" fill="#000"/>
<rect x="974.10" y="946" width="5.8" height="8.5" fill="#808080"/>
<rect x="974.90" y="946" width="4.2" height="7.5" fill="#000"/>
<rect x="1197.30" y="946" width="5.8" height="8.5" fill="#808080"/>
<rect x="1198.10" y="946" width="4.2" height="7.5" fill="#000"/>
<rect x="1420.50" y="946" width="5.8" height="8.5" fill="#808080"/>
<rect x="1421.30" y="946" width="4.2" height="7.5" fill="#000"/>
<text x="779" y="1113.4" font-size="60" textLength="219" lengthAdjust="spacingAndGlyphs">Time (s)</text>
<g transform="translate(65,709) rotate(-90)"><text x="0" y="0" font-size="60" textLength="340" lengthAdjust="spacingAndGlyphs">Temperature</text>
<text x="355.5" y="0" font-size="60" style="font-family:'Liberation Sans','Noto Sans CJK SC',sans-serif" stroke="#fff" stroke-width="1.8">(</text>
<text x="375" y="0" font-size="54" style="font-family:'Liberation Sans','Noto Sans CJK SC',sans-serif;font-weight:300">℃</text>
<text x="436" y="0" font-size="60" style="font-family:'Liberation Sans','Noto Sans CJK SC',sans-serif" stroke="#fff" stroke-width="1.8">)</text></g>
<rect x="257" y="42.7" width="402.5" height="298.8" fill="#fff" stroke="#c0c0c0" stroke-width="2.2"/>
<line x1="259" y1="76.3" x2="370" y2="76.3" stroke="#ff0000" stroke-opacity="0.45" stroke-width="8.0"/>
<line x1="259" y1="76.3" x2="370" y2="76.3" stroke="#ff0000" stroke-width="3.4"/>
<text x="380" y="91.8" font-size="47" textLength="272" lengthAdjust="spacingAndGlyphs">Envirionment</text>
<line x1="259" y1="134.0" x2="370" y2="134.0" stroke="#800000" stroke-opacity="0.45" stroke-width="8.0"/>
<line x1="259" y1="134.0" x2="370" y2="134.0" stroke="#800000" stroke-width="3.4"/>
<text x="380" y="150.2" font-size="47" textLength="252" lengthAdjust="spacingAndGlyphs">Test point A</text>
<line x1="259" y1="192.4" x2="370" y2="192.4" stroke="#00ff00" stroke-opacity="0.45" stroke-width="8.0"/>
<line x1="259" y1="192.4" x2="370" y2="192.4" stroke="#00ff00" stroke-width="3.4"/>
<text x="380" y="207" font-size="47" textLength="252" lengthAdjust="spacingAndGlyphs">Test point B</text>
<line x1="259" y1="250.9" x2="370" y2="250.9" stroke="#0000ff" stroke-opacity="0.45" stroke-width="8.0"/>
<line x1="259" y1="250.9" x2="370" y2="250.9" stroke="#0000ff" stroke-width="3.4"/>
<text x="380" y="264.8" font-size="47" textLength="253" lengthAdjust="spacingAndGlyphs">Test point C</text>
<line x1="259" y1="308.8" x2="370" y2="308.8" stroke="#ff00ff" stroke-opacity="0.45" stroke-width="8.0"/>
<line x1="259" y1="308.8" x2="370" y2="308.8" stroke="#ff00ff" stroke-width="3.4"/>
<text x="380" y="324.5" font-size="47" textLength="253" lengthAdjust="spacingAndGlyphs">Test point D</text>
</g></svg></body></html>
